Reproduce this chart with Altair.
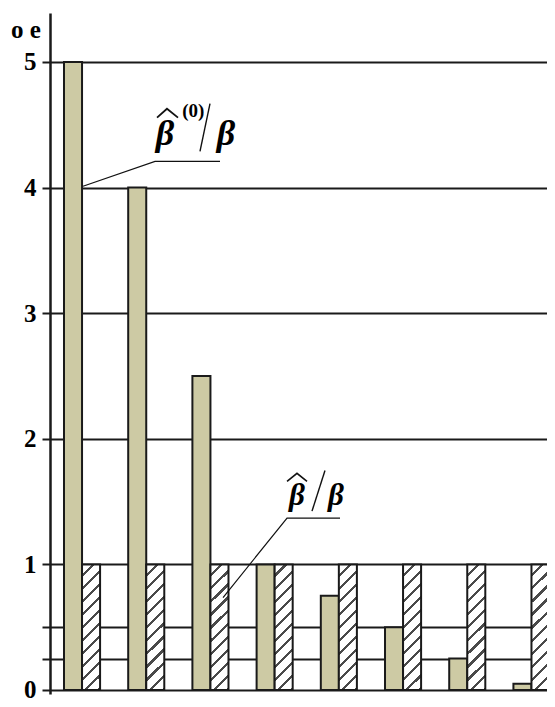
import altair as alt
import pandas as pd

# ---- chart values ----
groups = [1, 2, 3, 4, 5, 6, 7, 8]
beta0_ratio = [5, 4, 2.5, 1, 0.75, 0.5, 0.25, 0.05]   # crosshatched bars
beta_ratio = [1, 1, 1, 1, 1, 1, 1, 1]                 # diagonal-hatched bars
y_ticks = [0, 0.25, 0.5, 1, 2, 3, 4, 5]
y_title = "o e"

# ---- annotation geometry (data units) ----
ann_id = ["lead1", "lead1", "lead1", "slash1", "slash1", "hat1", "hat1", "hat1",
          "hat2", "hat2", "hat2", "slash2", "slash2", "lead2", "lead2", "lead2"]
ann_x = [0.514, 1.636, 2.648, 2.336, 2.492, 1.667, 1.822, 1.994,
         3.692, 3.847, 4.003, 4.081, 4.283, 2.695, 3.692, 4.517]
ann_y = [4.011, 4.209, 4.209, 4.288, 4.668, 4.557, 4.628, 4.557,
         1.661, 1.725, 1.661, 1.424, 1.748, 0.736, 1.369, 1.369]
ann_w = [1.2, 1.2, 1.2, 1.4, 1.4, 1.8, 1.8, 1.8,
         1.6, 1.6, 1.6, 1.4, 1.4, 1.2, 1.2, 1.2]

beta_txt = ["β", "β", "β", "β"]
beta_x = [1.791, 2.741, 3.847, 4.455]
beta_y = [4.343, 4.343, 1.472, 1.472]
beta_s = [36, 36, 31, 31]

sup_txt = ["(0)"]
sup_x = [2.232]
sup_y = [4.56]

XMAX = 7.741
YMIN, YMAX = -0.032, 5.390
INK = "#1a1a1a"

bars = pd.DataFrame({"g": groups, "b0": beta0_ratio, "b": beta_ratio})
ann = pd.DataFrame({"id": ann_id, "x": ann_x, "y": ann_y, "w": ann_w,
                    "o": list(range(len(ann_id)))})
btxt = pd.DataFrame({"t": beta_txt, "x": beta_x, "y": beta_y, "s": beta_s})
stxt = pd.DataFrame({"t": sup_txt, "x": sup_x, "y": sup_y})

xs = alt.Scale(domain=[0, XMAX], nice=False, zero=False)
ys = alt.Scale(domain=[YMIN, YMAX], nice=False, zero=False)

# diagonal hatch via hard-stop gradient in bounding-box units
N = 11
stops = []
for k in range(N):
    a, b, c = k / N, (k + 0.76) / N, (k + 1) / N
    stops += [{"offset": a, "color": "#ffffff"}, {"offset": b, "color": "#ffffff"},
              {"offset": b, "color": "#4a4a4a"}, {"offset": c, "color": "#4a4a4a"}]
hatch = {"gradient": "linear", "x1": 0, "y1": 0, "x2": 0.16, "y2": 1.12, "stops": stops}

base = alt.Chart(bars).transform_calculate(
    xa="datum.g - 1 + 0.218", xm="datum.g - 1 + 0.499", xb="datum.g - 1 + 0.78", z="0"
)

yaxis = alt.Axis(values=y_ticks, grid=True, gridColor=INK, gridWidth=2,
                 domainColor=INK, domainWidth=2.5, tickColor=INK, tickWidth=2,
                 tickSize=8, labelFont="Liberation Serif", labelFontWeight="bold",
                 labelFontSize=25, labelColor="black", labelPadding=6,
                 labelFlush=False, labelOverlap=False, labelBound=False,
                 labelExpr="datum.value % 1 == 0 ? format(datum.value, 'd') : ''",
                 title=None)

cross = base.mark_rect(fill="#cdcaa4", stroke=INK, strokeWidth=2).encode(
    x=alt.X("xa:Q", scale=xs, axis=None), x2="xm:Q",
    y=alt.Y("b0:Q", scale=ys, axis=yaxis), y2="z:Q")

diag = base.mark_rect(fill=hatch, stroke=INK, strokeWidth=2).encode(
    x=alt.X("xm:Q", scale=xs, axis=None), x2="xb:Q",
    y=alt.Y("b:Q", scale=ys, title=None), y2="z:Q")

lines = alt.Chart(ann).mark_line(color="#111111").encode(
    x=alt.X("x:Q", scale=xs, axis=None), y=alt.Y("y:Q", scale=ys, title=None),
    detail="id:N", order="o:Q", strokeWidth=alt.StrokeWidth("w:Q", scale=None))

betas = alt.Chart(btxt).mark_text(font="Liberation Serif", fontStyle="italic",
                                  fontWeight="bold", align="center",
                                  baseline="alphabetic", color="black").encode(
    x=alt.X("x:Q", scale=xs, axis=None), y=alt.Y("y:Q", scale=ys, title=None),
    text="t:N", size=alt.Size("s:Q", scale=None, legend=None))

sup = alt.Chart(stxt).mark_text(font="Liberation Serif", fontWeight="bold",
                                fontSize=19, align="center", baseline="alphabetic",
                                color="black").encode(
    x=alt.X("x:Q", scale=xs, axis=None), y=alt.Y("y:Q", scale=ys, title=None),
    text="t:N")

title = alt.Chart(pd.DataFrame({"t": [y_title]})).mark_text(
    font="Liberation Serif", fontWeight="bold", fontSize=25, align="left",
    baseline="alphabetic", color="black").encode(
    x=alt.value(-39), y=alt.value(25), text="t:N")

chart = alt.layer(cross, diag, lines, betas, sup, title).properties(
    width=497, height=681, autosize="none",
    padding={"left": 42, "top": 5, "right": 0, "bottom": 5},
    background="white",
).configure_view(stroke=None)

chart.save("out.html", embed_options={"renderer": "svg", "actions": False})
